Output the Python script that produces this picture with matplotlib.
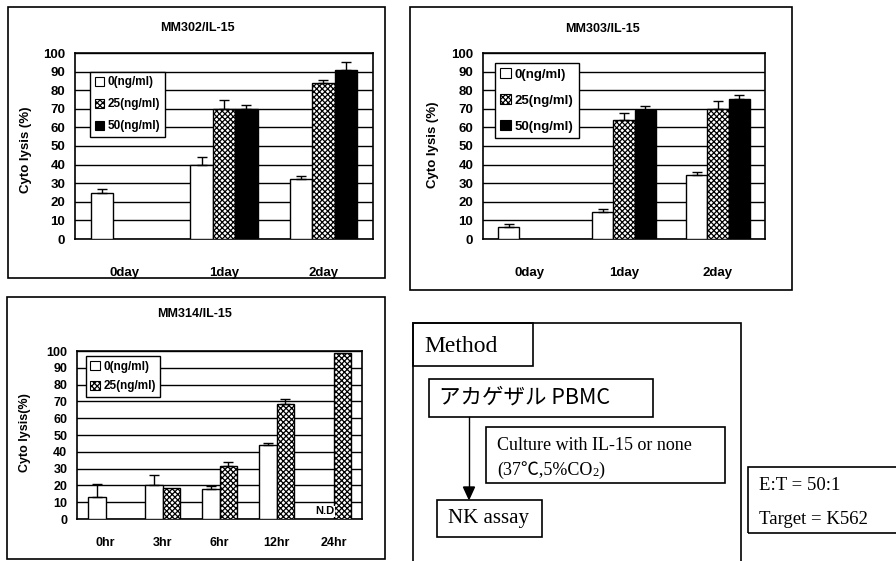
import numpy as np
import matplotlib
matplotlib.use("Agg")
import matplotlib.pyplot as plt
from matplotlib.patches import Rectangle, Patch, FancyArrow

W, H = 896, 561
plt.rcParams['font.family'] = ['Liberation Sans', 'DejaVu Sans']
plt.rcParams['hatch.linewidth'] = 0.9

# ---------------- data ----------------
days = ["0day", "1day", "2day"]
conc3 = ["0(ng/ml)", "25(ng/ml)", "50(ng/ml)"]
mm302_0 = [25, 40, 32]
mm302_0_err = [2, 4, 2]
mm302_25 = [np.nan, 70, 84]
mm302_25_err = [np.nan, 5, 1.5]
mm302_50 = [np.nan, 70, 91]
mm302_50_err = [np.nan, 2, 4]

mm303_0 = [6.5, 14.5, 34.5]
mm303_0_err = [1.5, 1.5, 1.5]
mm303_25 = [np.nan, 64, 70]
mm303_25_err = [np.nan, 4, 4]
mm303_50 = [np.nan, 69.5, 75.5]
mm303_50_err = [np.nan, 2, 2]

hours = ["0hr", "3hr", "6hr", "12hr", "24hr"]
conc2 = ["0(ng/ml)", "25(ng/ml)"]
mm314_0 = [13, 20, 18, 44, np.nan]
mm314_0_err = [8, 6, 1.5, 1.5, np.nan]
mm314_25 = [np.nan, 18.5, 31.5, 68.5, 99]
mm314_25_err = [np.nan, 0, 2.5, 3, 0]

yticks = list(range(0, 101, 10))

fig = plt.figure(figsize=(W / 100, H / 100), dpi=100)


def rect(x0, y0, x1, y1):
    return [x0 / W, 1 - y1 / H, (x1 - x0) / W, (y1 - y0) / H]


def fxy(x, y):
    return (x / W, 1 - y / H)


def box(x0, y0, x1, y1, lw=1.2):
    fig.add_artist(Rectangle(fxy(x0, y1), (x1 - x0) / W, (y1 - y0) / H,
                             transform=fig.transFigure, fill=False,
                             edgecolor='black', linewidth=lw, clip_on=False))


styles = [dict(color='white', hatch=None),
          dict(color='white', hatch='xxxxxx'),
          dict(color='black', hatch=None)]


def bar_panel(ax, cats, series, errs, width, offsets, xpad, tsize=9.5):
    x = np.arange(len(cats))
    for i, (vals, er) in enumerate(zip(series, errs)):
        st = styles[i]
        vals = np.array(vals, dtype=float)
        er = np.array(er, dtype=float)
        b = ax.bar(x + offsets[i] * width, np.nan_to_num(vals), width,
                   color=st['color'], hatch=st['hatch'], edgecolor='black',
                   linewidth=1.0, zorder=3)
        for j, v in enumerate(vals):
            if np.isnan(v):
                b[j].set_visible(False)
        m = ~np.isnan(vals) & ~np.isnan(er) & (np.nan_to_num(er) > 0)
        ax.errorbar((x + offsets[i] * width)[m], vals[m],
                    yerr=[np.zeros(m.sum()), er[m]], fmt='none',
                    ecolor='black', elinewidth=1.0, capsize=3.5, capthick=1.0,
                    zorder=4)
    ax.set_xlim(-0.5, len(cats) - 0.5)
    ax.set_ylim(0, 100)
    ax.set_yticks(yticks)
    ax.set_xticks(x)
    ax.set_xticklabels(cats, fontweight='bold', fontsize=tsize)
    ax.set_yticklabels([str(t) for t in yticks], fontweight='bold', fontsize=tsize)
    ax.tick_params(axis='x', length=0, pad=xpad)
    ax.tick_params(axis='y', length=0, pad=7)
    ax.yaxis.grid(True, color='black', linewidth=1.0, zorder=0)
    ax.set_axisbelow(True)
    for s in ax.spines.values():
        s.set_linewidth(1.2)


def legend(ax, labels, anchor, spacing, fs=8.5):
    handles = [Patch(facecolor=styles[i]['color'], hatch=styles[i]['hatch'],
                     edgecolor='black', linewidth=0.8)
               for i in range(len(labels))]
    lg = ax.legend(handles, labels, loc='upper left', bbox_to_anchor=anchor,
                   borderaxespad=0, fancybox=False, framealpha=1,
                   edgecolor='black', handlelength=0.8, handleheight=0.8,
                   handletextpad=0.3, borderpad=0.4, labelspacing=spacing,
                   prop=dict(weight='bold', size=fs))
    lg.get_frame().set_linewidth(1.0)
    lg.set_zorder(10)
    return lg


# ---------- Panel 1: MM302 ----------
box(8, 7, 385, 278)
ax1 = fig.add_axes(rect(75, 53, 373, 239))
bar_panel(ax1, days, [mm302_0, mm302_25, mm302_50],
          [mm302_0_err, mm302_25_err, mm302_50_err], 0.225, [-1, 0, 1], 20)
legend(ax1, conc3, (0.05, 0.9), 0.85)
fig.text(*fxy(197, 28), "MM302/IL-15", ha='center', va='center',
         fontweight='bold', fontsize=9)
fig.text(*fxy(26, 150), "Cyto lysis (%)", ha='center', va='center',
         rotation=90, fontweight='bold', fontsize=9.5)

# ---------- Panel 2: MM303 ----------
box(410, 7, 792, 290)
ax2 = fig.add_axes(rect(483, 53, 765, 239))
bar_panel(ax2, days, [mm303_0, mm303_25, mm303_50],
          [mm303_0_err, mm303_25_err, mm303_50_err], 0.225, [-1, 0, 1], 20)
legend(ax2, conc3, (0.043, 0.946), 1.0, fs=9.5)
fig.text(*fxy(603, 29), "MM303/IL-15", ha='center', va='center',
         fontweight='bold', fontsize=9)
fig.text(*fxy(433, 145), "Cyto lysis (%)", ha='center', va='center',
         rotation=90, fontweight='bold', fontsize=9.5)

# ---------- Panel 3: MM314 ----------
box(7, 297, 385, 559)
ax3 = fig.add_axes(rect(77, 351, 362, 519))
bar_panel(ax3, hours, [mm314_0, mm314_25], [mm314_0_err, mm314_25_err],
          0.3, [-0.5, 0.5], 13, tsize=9)
legend(ax3, conc2, (0.03, 0.97), 0.65, fs=8.5)
ax3.text(4 - 0.15, 1.5, "N.D", ha='center', va='bottom', fontweight='bold',
         fontsize=8, zorder=5,
         bbox=dict(facecolor='white', edgecolor='none', pad=0.5))
fig.text(*fxy(195, 314), "MM314/IL-15", ha='center', va='center',
         fontweight='bold', fontsize=9)
fig.text(*fxy(25, 433), "Cyto lysis(%)", ha='center', va='center',
         rotation=90, fontweight='bold', fontsize=9)

# ---------- Panel 4: Method ----------
serif = ['Liberation Serif', 'Noto Sans CJK JP', 'DejaVu Serif']
box(413, 323, 741, 600)
box(413, 323, 533, 366)
fig.text(*fxy(424, 346), "Method", ha='left', va='center', family=serif,
         fontsize=17)
box(429, 379, 653, 417)
fig.text(*fxy(439, 398), "アカゲザル PBMC", ha='left', va='center',
         family=['Noto Sans CJK JP', 'DejaVu Sans'], fontsize=15.5)
box(486, 427, 725, 483)
fig.text(*fxy(497, 446), "Culture with IL-15 or none", ha='left',
         va='center', family=serif, fontsize=13)
t1 = fig.text(*fxy(497, 470), "(37℃,5%CO", ha='left', va='center',
              family=serif, fontsize=13)
sub = plt.annotate("2", xy=(1, 0.0), xycoords=t1, ha='left', va='bottom',
                   family=serif, fontsize=9, annotation_clip=False)
sub.remove()
fig.add_artist(sub)
close = plt.annotate(")", xy=(1, 0), xycoords=(sub, t1), ha='left',
                     va='bottom', family=serif, fontsize=13,
                     annotation_clip=False)
close.remove()
fig.add_artist(close)
box(437, 500, 542, 537)
fig.text(*fxy(448, 519), "NK assay", ha='left', va='center', family=serif,
         fontsize=15)
fig.add_artist(plt.Line2D([469 / W, 469 / W], [1 - 417 / H, 1 - 490 / H],
                          transform=fig.transFigure, color='black', lw=1.0))
fig.patches.append(FancyArrow(
    469 / W, 1 - 487 / H, 0, -(12 / H), width=0.0001, head_width=11 / W,
    head_length=12 / H, length_includes_head=True, color='black',
    transform=fig.transFigure))
box(748, 467, 910, 533)
fig.text(*fxy(759, 486), "E:T = 50:1", ha='left', va='center', family=serif,
         fontsize=13.5)
fig.text(*fxy(759, 519), "Target = K562", ha='left', va='center',
         family=serif, fontsize=13.5)

fig.savefig("out.png", dpi=100)
